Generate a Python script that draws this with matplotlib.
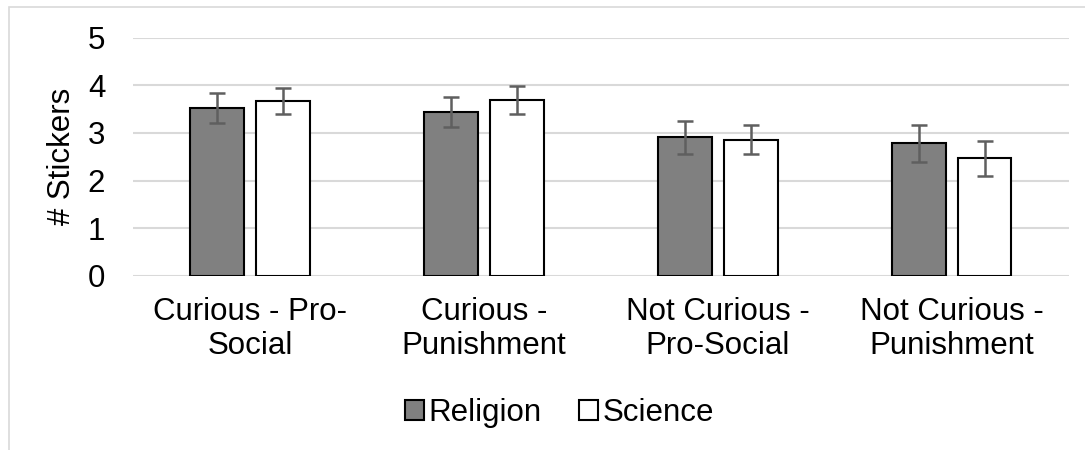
import numpy as np
import matplotlib.pyplot as plt
from matplotlib.patches import Rectangle

plt.rcParams['font.family'] = ['Liberation Sans', 'DejaVu Sans']

categories = ["Curious - Pro-\nSocial", "Curious -\nPunishment",
              "Not Curious -\nPro-Social", "Not Curious -\nPunishment"]
religion = [3.53, 3.44, 2.91, 2.78]
religion_err = [0.31, 0.32, 0.35, 0.38]
science = [3.67, 3.69, 2.86, 2.47]
science_err = [0.28, 0.29, 0.30, 0.37]

fig = plt.figure(figsize=(10.85, 4.5), dpi=100)
ax = fig.add_axes([0.1226, 0.3867, 0.8626, 0.5296])

# outer chart border (Excel style)
fig.patches.append(Rectangle((9 / 1085, -0.1), 1.2, 1 - 6.5 / 450 + 0.1,
                             transform=fig.transFigure, fill=False,
                             edgecolor='#d9d9d9', linewidth=1.2))

x = np.arange(len(categories))
w = 0.227
off = 0.141
err_kw = dict(ecolor='#5f5f5f', elinewidth=1.8, capsize=6, capthick=1.8)
ax.bar(x - off, religion, w, yerr=religion_err, color='#808080',
       edgecolor='black', linewidth=1.5, label='Religion', error_kw=err_kw, zorder=3)
ax.bar(x + off, science, w, yerr=science_err, color='white',
       edgecolor='black', linewidth=1.5, label='Science', error_kw=err_kw, zorder=3)

fs = 22.5
ax.set_xlim(-0.5, len(categories) - 0.5)
ax.set_ylim(0, 5)
ax.set_yticks(range(6))
ax.yaxis.grid(True, color='#d9d9d9', linewidth=1.5, zorder=0)
ax.set_axisbelow(True)
for s in ax.spines.values():
    s.set_visible(False)
ax.tick_params(axis='both', length=0, labelsize=fs)
ax.tick_params(axis='x', pad=15)
ax.tick_params(axis='y', pad=20)
ax.set_xticks(x)
ax.set_xticklabels(categories, linespacing=1.2)
ax.set_ylabel('# Stickers', fontsize=fs, labelpad=8)

fig.legend(loc='center', bbox_to_anchor=(0.516, 0.083), ncol=2, frameon=False,
           fontsize=fs, handlelength=0.6, handleheight=0.6, handletextpad=0.15,
           columnspacing=1.2)

fig.savefig('out.png', dpi=100)
